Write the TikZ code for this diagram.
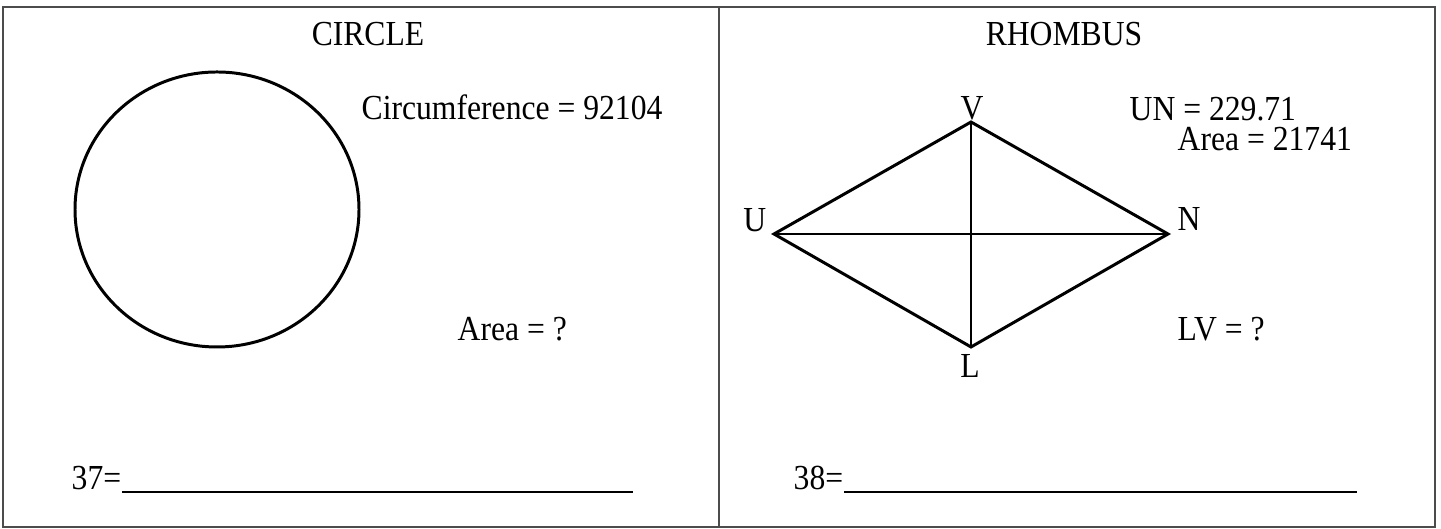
\documentclass[tikz,border=0pt]{standalone}
\usepackage{fontspec}
\setmainfont[FakeStretch=0.9]{Liberation Serif}
\usetikzlibrary{positioning}

\begin{document}
\begin{tikzpicture}[font=\fontsize{10}{12}\selectfont, every node/.style={inner sep=0pt}]
  \useasboundingbox (0,0) rectangle (14.41,5.29);
  \draw[black!70, line width=0.5pt] (0.03,0.02) rectangle (14.35,5.22);
  \draw[black!70, line width=0.5pt] (7.19,0.02) -- (7.19,5.22);

  \begin{scope}
    \node[anchor=base] (circtitle) at (3.68,4.83) {CIRCLE};
    \draw[line width=0.85pt] (2.17,3.195) ellipse (1.42 and 1.375);
    \node[anchor=base west] (circum) at (3.61,4.09) {Circumference = 92104};
    \node[anchor=base west] (circarea) at (4.57,1.88) {Area = ?};
    \node[anchor=base west] (ans37) at (0.71,0.39) {37=};
    \coordinate (line37) at (6.33,0.37);
    \draw[line width=0.6pt] (ans37.base east |- line37) -- (line37);
  \end{scope}

  \begin{scope}
    \node[anchor=base] (rhomtitle) at (10.64,4.83) {RHOMBUS};
    \coordinate (U) at (7.74,2.95);
    \coordinate (N) at (11.68,2.95);
    \coordinate (V) at (9.71,4.07);
    \coordinate (L) at (9.71,1.82);
    \draw[line width=0.85pt, line join=miter] (U) -- (V) -- (N) -- (L) -- cycle;
    \draw[line width=0.45pt] (U) -- (N);
    \draw[line width=0.45pt] (V) -- (L);
    \node[anchor=base east] (labU) at (7.67,2.97) {U};
    \node[anchor=base] (labV) at (9.72,4.09) {V};
    \node[anchor=base west] (labN) at (11.77,2.98) {N};
    \node[anchor=base] (labL) at (9.70,1.51) {L};
    \node[anchor=base west] (rhomun) at (11.29,4.08) {UN = 229.71};
    \node[anchor=base west] (rhomarea) at (11.77,3.78) {Area = 21741};
    \node[anchor=base west] (rhomlv) at (11.77,1.88) {LV = ?};
    \node[anchor=base west] (ans38) at (7.93,0.39) {38=};
    \coordinate (line38) at (13.57,0.37);
    \draw[line width=0.6pt] (ans38.base east |- line38) -- (line38);
  \end{scope}
\end{tikzpicture}
\end{document}
